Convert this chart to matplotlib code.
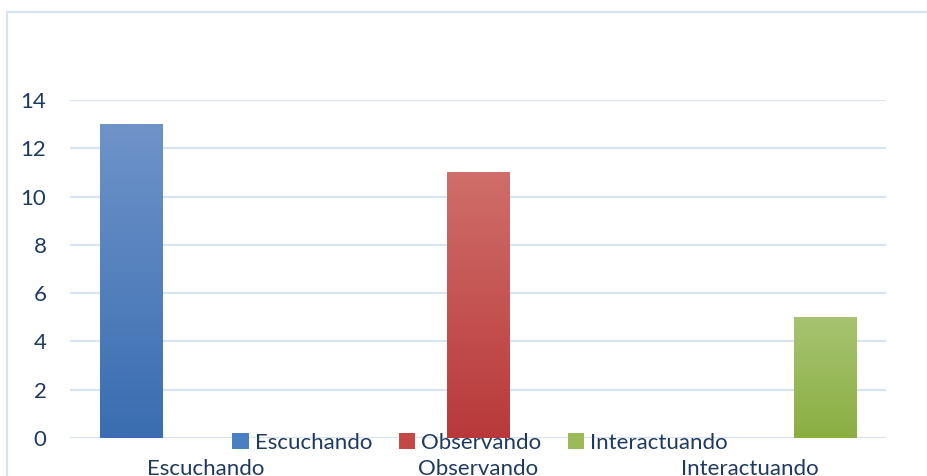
"""Barras agrupadas estilo Excel: Escuchando / Observando / Interactuando."""
import matplotlib
matplotlib.use("Agg")
import matplotlib.pyplot as plt
from matplotlib.patches import Rectangle
from matplotlib.colors import LinearSegmentedColormap
import numpy as np

categories = ["Escuchando", "Observando", "Interactuando"]
series = ["Escuchando", "Observando", "Interactuando"]
values = [13, 11, 5]

# degradado de arriba a abajo para cada serie
TOPS = ["#6E93C9", "#CF6E6A", "#A6C471"]
BOTTOMS = ["#3A6DB1", "#B9393A", "#8BAE42"]
MIDS = ["#4A7FC1", "#C44845", "#9BBB59"]
TEXT = "#1F3A60"
GRID = "#D9E4F2"

plt.rcParams.update({
    "font.family": ["Lato", "DejaVu Sans"],
    "font.size": 16,
    "text.color": TEXT,
    "xtick.color": TEXT,
    "ytick.color": TEXT,
})

W, H = 928, 476
fig = plt.figure(figsize=(W / 100, H / 100), dpi=100)
ax = fig.add_axes([70 / W, 1 - 438 / H, (886 - 70) / W, (438 - 100) / H])

x = np.arange(len(categories))
offset = 0.276
width = 0.228
handles = []
for i, name in enumerate(series):
    vals = [values[i] if j == i else 0 for j in range(len(categories))]
    bars = ax.bar(x + (i - 1) * offset, vals, width=width, color=MIDS[i],
                  label=name, zorder=2)
    cmap = LinearSegmentedColormap.from_list(f"g{i}", [BOTTOMS[i], TOPS[i]])
    for b in bars:
        h = b.get_height()
        if h <= 0:
            continue
        x0 = b.get_x()
        grad = np.linspace(0, 1, 256).reshape(-1, 1)
        im = ax.imshow(grad, cmap=cmap, origin="lower", aspect="auto",
                       extent=[x0, x0 + b.get_width(), 0, h], zorder=3)
        im.set_clip_path(b)
    handles.append(Rectangle((0, 0), 1, 1, facecolor=MIDS[i]))

ax.set_xlim(-0.5, 2.5)
ax.set_ylim(0, 14)
ax.set_yticks(range(0, 15, 2))
ax.set_xticks(x)
ax.set_xticklabels(categories)
ax.tick_params(axis="x", length=0, pad=15)
ax.tick_params(axis="y", length=0, pad=17)
ax.grid(axis="y", color=GRID, linewidth=1.6, zorder=0)
for s in ax.spines.values():
    s.set_visible(False)
ax.set_facecolor("none")

fig.legend(handles, series, loc="center", ncol=3, frameon=False,
           bbox_to_anchor=(480 / W, 1 - 443 / H), handlelength=0.75,
           handleheight=0.75, handletextpad=0.25, columnspacing=1.2,
           borderpad=0, fontsize=16)

# marco del gráfico
fig.patches.append(Rectangle((7 / W, -0.1), 2, 1 + 0.1 - 12 / H,
                             transform=fig.transFigure, fill=False,
                             edgecolor="#D6E2F2", linewidth=1.5))

fig.savefig("out.png", dpi=100, facecolor="white")
